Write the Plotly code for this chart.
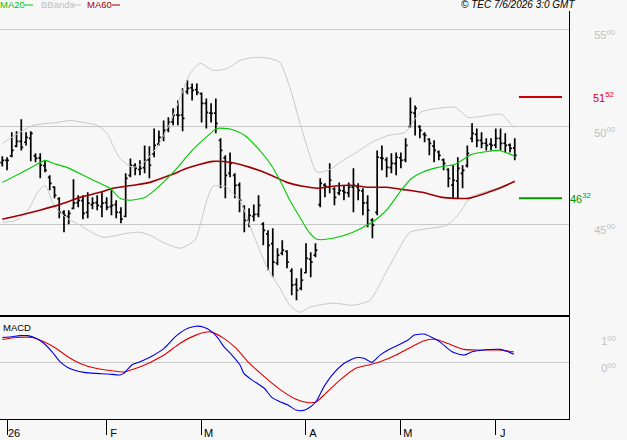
import plotly.graph_objects as go

# ---------------- data (bar index 0 = 31 Dec 2025, last = 5 Jun 2026) ----------------
bar_open = [4815,4827,4850,4900,4925,4920,4940,4850,4840,4800,
            4740,4690,4630,4560,4540,4580,4610,4620,4560,4600,
            4610,4590,4610,4590,4600,4560,4540,4750,4800,4780,
            4790,4830,4860,4910,4945,4985,5025,5060,5060,5180,
            5200,5190,5170,5120,5070,5070,4930,4840,4760,4750,
            4700,4590,4520,4540,4550,4500,4450,4400,4300,4350,
            4360,4260,4190,4170,4250,4320,4340,4600,4700,4690,
            4680,4660,4670,4660,4690,4690,4670,4610,4520,4560,
            4840,4830,4790,4810,4840,4830,5000,5070,5000,4960,
            4935,4900,4870,4830,4780,4700,4720,4760,4800,4940,
            4960,4930,4915,4910,4905,4940,4915,4905,4890]
bar_high = [4848,4843,4971,4976,5038,4971,4976,4863,4863,4827,
            4750,4694,4637,4571,4571,4730,4648,4648,4663,4637,
            4648,4663,4637,4684,4622,4586,4761,4837,4812,4827,
            4904,4899,4991,4981,5032,5048,5094,5135,5197,5238,
            5222,5222,5176,5145,5120,5145,4940,4853,4868,4761,
            4714,4596,4581,4601,4648,4509,4468,4478,4376,4417,
            4366,4273,4222,4273,4401,4355,4401,4735,4709,4812,
            4689,4714,4699,4714,4786,4709,4684,4648,4530,4878,
            4904,4843,4863,4868,4868,4940,5150,5109,5007,4971,
            4940,4930,4878,4837,4786,4802,4843,4802,4904,5017,
            4991,4971,4940,4940,4991,4991,4966,4914,4940]
bar_low = [4796,4776,4843,4894,4878,4904,4822,4817,4735,4766,
           4673,4632,4530,4458,4499,4576,4586,4525,4530,4576,
           4571,4535,4571,4545,4530,4504,4535,4740,4750,4750,
           4761,4735,4843,4904,4925,4971,5007,5007,4976,5166,
           5135,5161,5022,4991,5022,4966,4684,4632,4740,4632,
           4560,4458,4484,4514,4535,4391,4263,4227,4289,4340,
           4273,4135,4109,4160,4247,4227,4330,4586,4637,4658,
           4596,4648,4622,4637,4560,4622,4545,4483,4427,4545,
           4776,4740,4761,4750,4786,4817,4996,4955,4940,4920,
           4853,4817,4827,4776,4689,4632,4632,4684,4791,4920,
           4894,4889,4878,4878,4889,4878,4868,4868,4827]
bar_close = [4827,4827,4878,4925,4894,4945,4966,4837,4802,4776,
             4709,4648,4560,4545,4555,4607,4622,4555,4607,4607,
             4596,4607,4586,4596,4560,4525,4735,4802,4786,4786,
             4827,4802,4904,4945,4981,5022,5058,5058,5043,5197,
             5186,5176,5120,5073,5068,5017,4878,4750,4812,4699,
             4622,4519,4545,4550,4596,4468,4391,4304,4340,4366,
             4304,4186,4160,4212,4324,4304,4366,4709,4694,4725,
             4637,4673,4663,4689,4699,4673,4607,4571,4494,4843,
             4837,4791,4812,4843,4827,4904,5073,5094,4981,4955,
             4914,4878,4853,4812,4735,4725,4786,4776,4863,4966,
             4930,4914,4904,4904,4940,4914,4904,4889,4853]
bar_index = list(range(len(bar_close)))

ma20_idx = [0, 3.7, 6.5, 9, 10.7, 13.6, 17.9, 20.6, 22.7, 24.8, 26.9, 30.1, 32.8, 36.4, 40,
            43.4, 45.2, 48.4, 51.1, 53.7, 56.4, 58.5, 60.6, 62.7, 64.8, 66.3, 69.7, 73.9,
            77.9, 79.6, 81.3, 84.2, 86.3, 88.5, 91.8, 95.4, 99, 102.4, 104.5, 106.6, 108]
ma20_val = [4714, 4760, 4796, 4827, 4812, 4791, 4740, 4709, 4684, 4632, 4622, 4637, 4689, 4776, 4878,
            4955, 4991, 4986, 4955, 4894, 4812, 4725, 4622, 4535, 4453, 4422, 4427, 4458,
            4509, 4540, 4581, 4678, 4735, 4766, 4791, 4807, 4858, 4873, 4878, 4863, 4848]

ma60_idx = [0, 3.7, 7.9, 12.2, 16.4, 20.6, 23.3, 27.5, 31.1, 35.3, 38.9, 41.7, 44.4, 48, 52.2,
            55.8, 60, 63.4, 66.5, 69.7, 73.3, 76.9, 81.1, 84.2, 88.5, 92.7, 95.4, 98.2,
            102.4, 105.3, 108]
ma60_val = [4525, 4545, 4571, 4601, 4637, 4663, 4684, 4699, 4714, 4750, 4786, 4807, 4822, 4817, 4791,
            4760, 4714, 4694, 4684, 4694, 4699, 4689, 4689, 4678, 4663, 4637, 4632, 4632,
            4663, 4689, 4720]

bb_up_idx = [0, 3.7, 6.5, 11.5, 14.3, 17, 20, 22.1, 23.3, 24.8, 27.5, 29.6, 32.6, 35.3, 37.5,
             39.6, 41.7, 44.4, 47.4, 50.1, 53.3, 56.4, 58.5, 60.6, 62.7, 64.8, 66.3, 69.1,
             71.8, 74.3, 77.9, 81.3, 84.9, 88.1, 91.8, 95.4, 98.2, 102.4, 105.3, 107.4, 108]
bb_up_val = [4914, 4971, 5007, 5022, 5032, 5022, 5007, 4966, 4904, 4837, 4791, 4812, 4894, 5017, 5150,
             5273, 5325, 5289, 5299, 5340, 5356, 5350, 5330, 5202, 5022, 4853, 4766, 4781,
             4827, 4863, 4920, 4955, 4971, 5073, 5094, 5099, 5048, 5058, 5063, 5007, 4997]

bb_lo_idx = [0, 2.3, 3.7, 5.8, 7.3, 9, 11.1, 13.6, 15.7, 18.1, 21.2, 26.3, 29, 31.1, 34.3, 37.5,
             40.6, 41.7, 43.1, 44.4, 46.9, 49, 50.1, 52.8, 55.8, 58.5, 60.6, 62.7, 64.8, 69.7,
             73.9, 77.5, 81.1, 83.8, 85.9, 90.1, 93.7, 96.5, 98.6, 102.8, 108]
bb_lo_val = [4509, 4514, 4530, 4586, 4658, 4699, 4586, 4530, 4504, 4468, 4432, 4453, 4458, 4442, 4401, 4376,
             4417, 4494, 4622, 4694, 4694, 4648, 4622, 4453, 4278, 4171, 4083, 4047, 4073, 4094,
             4083, 4109, 4263, 4381, 4458, 4478, 4494, 4560, 4637, 4673, 4714]

macd_idx = [0, 2, 3.7, 5.4, 7.1, 8.8, 10.5, 12.2, 13.8, 15.1, 17.2, 19.7, 22.3, 24.8, 25.6, 27.3,
            29, 31.5, 34.1, 36.6, 39.1, 40.8, 42.5, 44.2, 45.5, 46.7, 48.4, 50.1, 50.9, 52.6,
            55.2, 56.8, 58.5, 60.2, 61.9, 63.2, 64.4, 66.1, 67.8, 69.5, 72, 74.5, 76.2, 77.9,
            79.6, 81.3, 83.8, 85.5, 86.8, 88.9, 90.6, 92.2, 94.8, 97.3, 99, 101.5, 104.9, 106.6, 107.8]
macd_val = [92, 95, 99, 99, 89, 70, 39, 2, -19, -28, -37, -41, -43, -47, -41, -10,
            2, 23, 52, 97, 126, 134, 130, 113, 89, 58, 27, -10, -41, -65,
            -96, -130, -146, -158, -177, -179, -171, -146, -90, -47, -4, 17, 15, 0,
            27, 46, 67, 83, 101, 105, 92, 76, 39, 27, 39, 46, 48, 39, 30]

signal_idx = [0, 2.9, 6.3, 8.8, 11.3, 13.8, 16.4, 19.7, 23.1, 25.6, 28.2, 30.7, 34.1, 37.4, 40.8,
              43.8, 46.7, 49.3, 51.8, 55.2, 58.5, 61.9, 64.4, 66.1, 67.8, 71.2, 74.5, 77.1, 79.6,
              83, 86.3, 88.9, 91.4, 93.9, 97.3, 100.7, 104.9, 107.8]
signal_val = [85, 92, 92, 76, 52, 21, -4, -22, -31, -36, -22, -4, 27, 70, 101,
              113, 89, 52, 2, -53, -100, -137, -149, -147, -121, -65, -22, -10, 2,
              27, 58, 80, 85, 70, 48, 46, 46, 39]

resistance = 5152
support = 4632

month_tick_idx = [1, 22, 42, 64, 84, 104]
month_labels = ["26", "F", "M", "A", "M", "J"]
price_ticks = [4500, 5000, 5500]
macd_ticks = [0, 100]

# ---------------- figure ----------------
W, H = 627, 440
BG = "#f7f7f7"
FONT = "Liberation Sans"
XR = 569 / W


def split_label(v):
    s = str(int(v))
    return f"{s[:-2]}<sup>{s[-2:]}</sup>"


def macd_label(v):
    return f"{int(v // 100)}<sup>00</sup>"


fig = go.Figure()

line_kw = dict(mode="lines", hoverinfo="skip", showlegend=False)
fig.add_trace(go.Scatter(x=bb_up_idx, y=bb_up_val, line=dict(color="#c8c8c8", width=1, shape="spline", smoothing=0.6), **line_kw))
fig.add_trace(go.Scatter(x=bb_lo_idx, y=bb_lo_val, line=dict(color="#c8c8c8", width=1, shape="spline", smoothing=0.6), **line_kw))
fig.add_trace(go.Scatter(x=ma60_idx, y=ma60_val, line=dict(color="#9b0000", width=1.6, shape="spline", smoothing=0.6), **line_kw))
fig.add_trace(go.Scatter(x=ma20_idx, y=ma20_val, line=dict(color="#00c800", width=1.1, shape="spline", smoothing=0.6), **line_kw))

fig.add_trace(go.Ohlc(
    x=bar_index, open=bar_open, high=bar_high, low=bar_low, close=bar_close,
    increasing=dict(line=dict(color="black", width=1.7)),
    decreasing=dict(line=dict(color="black", width=1.7)),
    tickwidth=0.4, hoverinfo="skip", showlegend=False, xaxis="x", yaxis="y"))

fig.add_trace(go.Scatter(x=signal_idx, y=signal_val, xaxis="x2", yaxis="y2",
                         line=dict(color="#e00000", width=1.1, shape="spline", smoothing=0.6), **line_kw))
fig.add_trace(go.Scatter(x=macd_idx, y=macd_val, xaxis="x2", yaxis="y2",
                         line=dict(color="#0000e6", width=1.1, shape="spline", smoothing=0.6), **line_kw))

main_dom = [1 - 315 / H, 1 - 11 / H]
macd_dom = [1 - 419 / H, 1 - 316.5 / H]
xrange_ = [-0.485, 119.43]

fig.update_layout(
    width=W, height=H, margin=dict(l=0, r=0, t=0, b=0),
    paper_bgcolor=BG, plot_bgcolor=BG,
    font=dict(family=FONT, size=11, color="black"),
    showlegend=False,
    xaxis=dict(domain=[0, XR], range=xrange_, anchor="y", showticklabels=False, ticks="",
               showgrid=False, zeroline=False, showline=True, linecolor="black", linewidth=2,
               rangeslider=dict(visible=False)),
    yaxis=dict(domain=main_dom, range=[4033, 5594], side="right", anchor="x",
               tickvals=price_ticks, ticktext=[split_label(v) for v in price_ticks],
               tickfont=dict(color="#c0c0c0", size=11, family=FONT), ticks="",
               ticklabelstandoff=22, ticklabelshift=6,
               showgrid=True, gridcolor="#c8c8c8", gridwidth=1, zeroline=False,
               showline=True, linecolor="black", linewidth=1),
    xaxis2=dict(domain=[0, XR], range=xrange_, anchor="y2", matches="x",
                tickvals=month_tick_idx, ticktext=month_labels,
                ticks="outside", ticklen=15, tickwidth=1, tickcolor="black",
                tickfont=dict(color="black", size=11, family=FONT),
                ticklabelshift=7, ticklabelstandoff=-11,
                showgrid=False, zeroline=False, showline=True, linecolor="black", linewidth=1),
    yaxis2=dict(domain=macd_dom, range=[-210, 170], side="right", anchor="x2",
                tickvals=macd_ticks, ticktext=[macd_label(v) for v in macd_ticks],
                tickfont=dict(color="#c0c0c0", size=11, family=FONT), ticks="",
                ticklabelstandoff=29, ticklabelshift=6,
                showgrid=False, zeroline=True, zerolinecolor="#c8c8c8", zerolinewidth=1,
                showline=True, linecolor="black", linewidth=1),
)

# support / resistance markers
fig.add_shape(type="line", xref="paper", yref="y", x0=519 / W, x1=562 / W, y0=resistance, y1=resistance,
              line=dict(color="#cc0000", width=2))
fig.add_shape(type="line", xref="paper", yref="y", x0=519 / W, x1=562 / W, y0=support, y1=support,
              line=dict(color="#009900", width=2))
fig.add_annotation(xref="paper", yref="y", x=593 / W, y=resistance, xanchor="left", yanchor="middle",
                   text=split_label(resistance), showarrow=False, font=dict(color="#dd0000", size=11),
                   borderpad=0, borderwidth=0)
fig.add_annotation(xref="paper", yref="y", x=569.5 / W, y=support, xanchor="left", yanchor="middle",
                   text=split_label(support), showarrow=False, font=dict(color="#009900", size=11),
                   borderpad=0, borderwidth=0)

# legend
legend_items = [("MA20", "#00c800", 0, 25, 33), ("BBands", "#c0c0c0", 41, 72.5, 81), ("MA60", "#9b0000", 87, 112, 120)]
for name, col, tx, l0, l1 in legend_items:
    fig.add_annotation(xref="paper", yref="paper", x=tx / W, y=1 - 5 / H, xanchor="left", yanchor="middle",
                       text=name, showarrow=False, font=dict(color=col, size=9.5), borderpad=0, borderwidth=0)
    fig.add_shape(type="line", xref="paper", yref="paper", x0=l0 / W, x1=l1 / W, y0=1 - 5 / H, y1=1 - 5 / H,
                  line=dict(color=col, width=1))

fig.add_annotation(xref="paper", yref="paper", x=575 / W, y=1 - 4.5 / H, xanchor="right", yanchor="middle",
                   text="<i>© TEC 7/6/2026 3:0 GMT</i>", showarrow=False, font=dict(color="black", size=10),
                   borderpad=0, borderwidth=0)
fig.add_annotation(xref="paper", yref="paper", x=3 / W, y=1 - 327 / H, xanchor="left", yanchor="middle",
                   text="MACD", showarrow=False, font=dict(color="black", size=9.5), borderpad=0, borderwidth=0)

fig.write_html("out.html")
